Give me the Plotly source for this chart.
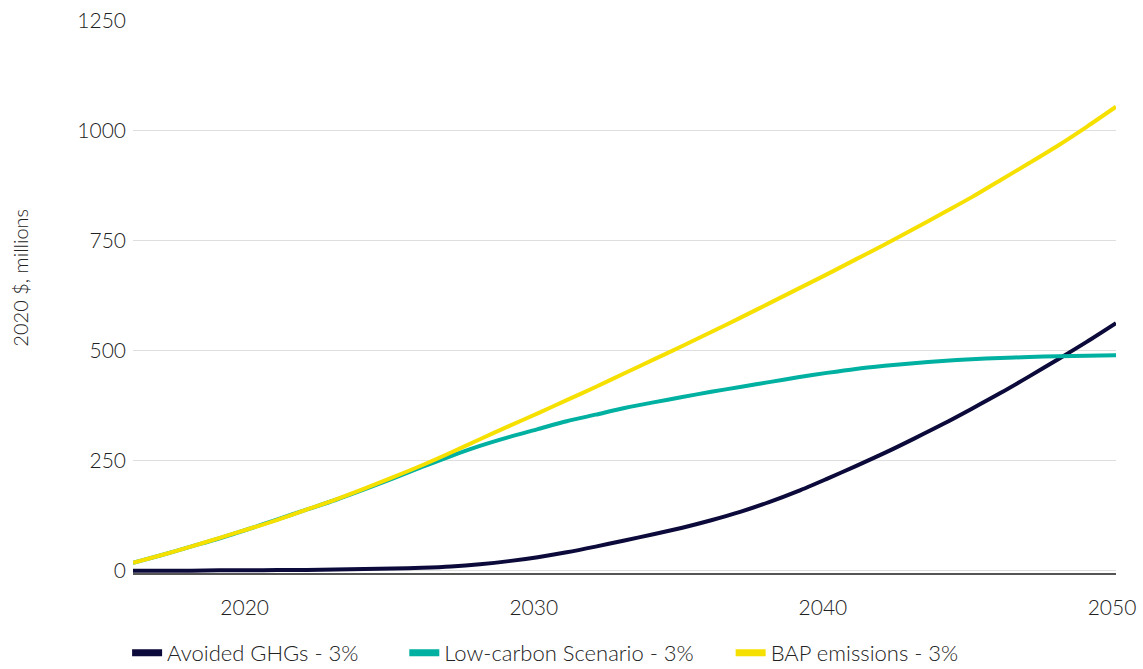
import plotly.graph_objects as go

# Annual series, 2020 $ millions
years = list(range(2016, 2051))

avoided_ghgs = [0, 0, 0, 1, 1, 2, 2, 3, 4, 5, 7, 10, 15, 22, 31, 42, 55, 69, 83, 98,
                115, 134, 156, 181, 209, 238, 268, 300, 333, 368, 404, 442, 481, 521, 563]

low_carbon = [18, 36, 55, 74, 95, 117, 139, 161, 185, 210, 236, 261, 284, 304, 322, 340,
              355, 370, 383, 395, 407, 418, 429, 440, 450, 459, 466, 472, 477, 481, 484,
              486, 488, 489, 490]

bap_emissions = [18, 36, 55, 75, 95, 116, 139, 162, 187, 213, 240, 269, 299, 329, 358, 388,
                 418, 449, 480, 511, 543, 575, 608, 641, 674, 708, 742, 777, 813, 849, 888,
                 927, 967, 1010, 1055]

series_names = ["Avoided GHGs - 3%", "Low-carbon Scenario - 3%", "BAP emissions - 3%"]
series_colors = ["#0b0a3a", "#00b0a0", "#f6e000"]
legend_ids = ["legend", "legend2", "legend3"]
legend_x = [-0.006, 0.276, 0.608]

y_ticks = [0, 250, 500, 750, 1000, 1250]
x_ticks = [2020, 2030, 2040, 2050]

FONT = "Lato"
TEXT = "#222222"

fig = go.Figure()

# Draw order: avoided first, then low-carbon, BAP on top
for name, vals, col in zip(series_names, [avoided_ghgs, low_carbon, bap_emissions], series_colors):
    fig.add_trace(go.Scatter(
        x=years, y=vals, mode="lines", name=name,
        line=dict(color=col, width=4, shape="spline", smoothing=0.8),
        showlegend=False, hoverinfo="x+y+name",
    ))

# Legend swatches, one legend box per series
for name, col, lid in zip(series_names, series_colors, legend_ids):
    fig.add_trace(go.Scatter(
        x=[None], y=[None], mode="lines", name=name,
        line=dict(color=col, width=7), legend=lid,
    ))

legend_style = dict(
    orientation="h", xanchor="left", yref="container", y=0.024, yanchor="middle",
    font=dict(family=FONT, size=22, color=TEXT, weight=300),
    itemwidth=30, bgcolor="rgba(0,0,0,0)",
)

fig.update_layout(
    width=1143, height=669,
    margin=dict(l=133, r=27, t=21, b=96, autoexpand=False),
    paper_bgcolor="white", plot_bgcolor="white",
    font=dict(family=FONT, size=20, color=TEXT, weight=300),
    showlegend=True,
    legend=dict(x=legend_x[0], **legend_style),
    legend2=dict(x=legend_x[1], **legend_style),
    legend3=dict(x=legend_x[2], **legend_style),
    annotations=[dict(
        text="2020 $, millions", textangle=-90,
        xref="paper", yref="paper", x=-0.115, y=0.535,
        xanchor="center", yanchor="middle", showarrow=False,
        font=dict(family=FONT, size=20, color=TEXT, weight=300),
    )],
)

fig.update_xaxes(
    range=[2016, 2050], tickvals=x_ticks, ticktext=[str(v) for v in x_ticks],
    showgrid=False, zeroline=False, automargin=False,
    showline=True, linecolor="#555555", linewidth=2,
    ticks="", ticklabelstandoff=15, ticklabelshift=-4,
    tickfont=dict(family=FONT, size=21, color=TEXT, weight=300),
)

fig.update_yaxes(
    range=[-5, 1250], tickvals=y_ticks, ticktext=[str(v) for v in y_ticks],
    showgrid=True, gridcolor="#dedede", gridwidth=1, automargin=False,
    zeroline=False, showline=False, ticks="", ticklabelstandoff=6,
    tickfont=dict(family=FONT, size=21, color=TEXT, weight=300),
)

fig.write_html("out.html")
